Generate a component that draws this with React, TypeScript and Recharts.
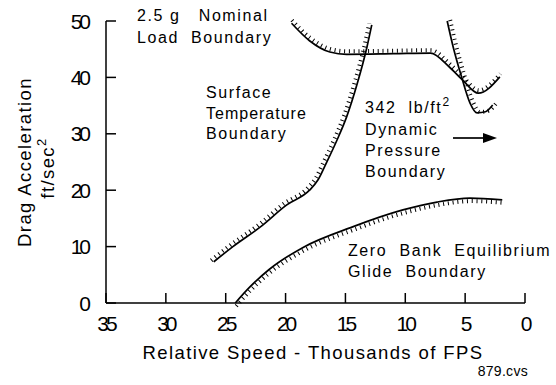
import { ComposedChart, Line, XAxis, YAxis } from 'recharts';

// x = relative speed (thousands of FPS), y = drag acceleration (ft/sec^2)
const X_TICKS = [35, 30, 25, 20, 15, 10, 5, 0];
const Y_TICKS = [0, 10, 20, 30, 40, 50];

const SURFACE_X = [26.0, 24.4, 22.1, 19.9, 18.0, 17.3, 16.6, 15.7, 14.9, 14.0, 13.2, 12.8];
const SURFACE_Y = [7.3, 10.0, 13.5, 17.4, 20.0, 21.8, 24.8, 28.9, 33.0, 39.0, 45.4, 49.3];

const LOAD_X = [19.5, 18.0, 16.3, 14.9, 11.0, 7.9, 6.3, 5.2, 3.9, 2.1];
const LOAD_Y = [49.6, 46.5, 44.5, 44.1, 44.2, 44.3, 41.8, 39.5, 37.2, 40.1];

const PRESSURE_X = [6.5, 6.0, 5.3, 4.6, 4.0, 3.3, 2.7];
const PRESSURE_Y = [50.0, 45.4, 40.1, 35.5, 33.7, 33.9, 35.1];

const GLIDE_X = [24.2, 23.0, 21.4, 18.5, 14.4, 10.2, 7.35, 4.6, 1.9];
const GLIDE_Y = [0, 2.8, 5.9, 9.9, 13.5, 16.5, 17.9, 18.6, 18.3];

const toPoints = (xs: number[], ys: number[]) => xs.map((x, i) => ({ x, y: ys[i] }));

const CURVES = [
    { id: 'surface', data: toPoints(SURFACE_X, SURFACE_Y), hatch: 'translate(-2.5px,-1.5px)' },
    { id: 'load', data: toPoints(LOAD_X, LOAD_Y), hatch: 'translate(0.5px,-3px)' },
    { id: 'pressure', data: toPoints(PRESSURE_X, PRESSURE_Y), hatch: 'translate(3px,-1px)' },
    { id: 'glide', data: toPoints(GLIDE_X, GLIDE_Y), hatch: 'translate(1px,3px)' },
];

const FONT = '"Liberation Sans", Arial, sans-serif';

const note = { fontFamily: FONT, fontSize: 16, letterSpacing: 1.6, fill: '#000', whiteSpace: 'pre' as const };

// squeezed tick digits, like the original plot
const renderTick = (props: any, vertical: boolean) => {
    const { x, y, payload, textAnchor } = props;
    return (
        <text
            x={x}
            y={y}
            dy={vertical ? '0.36em' : '0.72em'}
            textAnchor={textAnchor}
            style={{ fontFamily: FONT, fontSize: 21, letterSpacing: '-3px', fill: '#000' }}
        >
            {String(payload.value)}
        </text>
    );
};

export default function App() {
    return (
        <div style={{ position: 'absolute', left: 0, top: 0, width: 556, height: 385, background: '#fff' }}>
            <style>{CURVES.map(c => `.hatch-${c.id}{transform:${c.hatch}}`).join('\n')}</style>
            <ComposedChart width={556} height={385} margin={{ top: 21, right: 31, left: 0, bottom: 0 }}>
                <XAxis
                    type="number"
                    dataKey="x"
                    domain={[0, 35]}
                    reversed
                    ticks={X_TICKS}
                    interval={0}
                    height={82}
                    tickSize={-10}
                    tickMargin={23}
                    tick={(p: any) => renderTick(p, false)}
                    axisLine={{ stroke: '#000', strokeWidth: 1.5 }}
                    tickLine={{ stroke: '#000', strokeWidth: 1.5 }}
                />
                <YAxis
                    type="number"
                    dataKey="y"
                    domain={[0, 50]}
                    ticks={Y_TICKS}
                    interval={0}
                    width={106}
                    tickSize={-10}
                    tickMargin={28}
                    tick={(p: any) => renderTick(p, true)}
                    axisLine={{ stroke: '#000', strokeWidth: 1.5 }}
                    tickLine={{ stroke: '#000', strokeWidth: 1.5 }}
                />
                {CURVES.map(c => (
                    <Line
                        key={`${c.id}-hatch`}
                        className={`hatch-${c.id}`}
                        data={c.data}
                        dataKey="y"
                        type="monotone"
                        stroke="#000"
                        strokeWidth={4}
                        strokeDasharray="1 3.8"
                        dot={false}
                        activeDot={false}
                        legendType="none"
                        isAnimationActive={false}
                    />
                ))}
                {CURVES.map(c => (
                    <Line
                        key={c.id}
                        data={c.data}
                        dataKey="y"
                        type="monotone"
                        stroke="#000"
                        strokeWidth={1.7}
                        dot={false}
                        activeDot={false}
                        legendType="none"
                        isAnimationActive={false}
                    />
                ))}
            </ComposedChart>

            <svg width={556} height={385} style={{ position: 'absolute', left: 0, top: 0, pointerEvents: 'none' }}>
                <text x={137} y={21} style={note}>2.5 g   Nominal</text>
                <text x={137} y={43} style={note}>Load  Boundary</text>

                <text x={206} y={98} style={note}>Surface</text>
                <text x={206} y={119} style={{ ...note, letterSpacing: 1 }}>Temperature</text>
                <text x={206} y={139} style={note}>Boundary</text>

                <text x={365} y={113} style={note}>
                    342  lb/ft<tspan fontSize={12} dy={-7}>2</tspan>
                </text>
                <text x={365} y={135} style={note}>Dynamic</text>
                <text x={365} y={156} style={note}>Pressure</text>
                <text x={365} y={177} style={note}>Boundary</text>

                <line x1={453} y1={138} x2={485} y2={138} stroke="#000" strokeWidth={1.7} />
                <polygon points="497,138 483,133 483,143" fill="#000" />

                <text x={348} y={256} style={note}>Zero  Bank  Equilibrium</text>
                <text x={348} y={277} style={note}>Glide  Boundary</text>

                <text x={313} y={359} textAnchor="middle" style={{ ...note, fontSize: 18.5, letterSpacing: 1.4 }}>
                    Relative Speed - Thousands of FPS
                </text>
                <text x={528} y={376} textAnchor="end" style={{ ...note, fontSize: 14, letterSpacing: 0.3 }}>
                    879.cvs
                </text>

                <g transform="rotate(-90)">
                    <text x={-162} y={31} textAnchor="middle" style={{ ...note, fontSize: 18.5, letterSpacing: 1.4 }}>
                        Drag Acceleration
                    </text>
                    <text x={-168} y={54} textAnchor="middle" style={{ ...note, fontSize: 18.5, letterSpacing: 1.4 }}>
                        ft/sec<tspan fontSize={13} dy={-8}>2</tspan>
                    </text>
                </g>
            </svg>
        </div>
    );
}
